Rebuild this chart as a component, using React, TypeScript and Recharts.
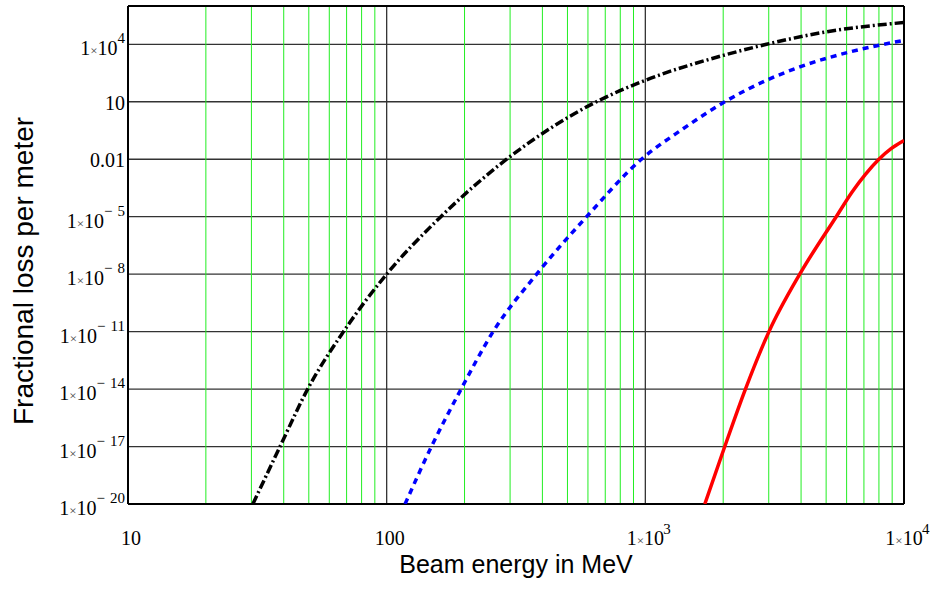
import { LineChart, Line, XAxis, YAxis, CartesianGrid, ReferenceLine, Label } from 'recharts';

// energies in MeV, losses per meter
const blackEnergy = [30.4, 38.7, 49.5, 68.1, 100, 162, 291, 647, 1000, 2000, 2940, 5000, 10000];
const blackLoss = [1e-20, 1e-17, 1e-14, 1e-11, 1e-8, 1e-5, 0.01, 10, 132, 2630, 1e4, 44700, 138000];

const blueEnergy = [117.8, 149, 194, 258, 380, 593, 966, 1400, 2028, 2940, 3954, 6166, 10000];
const blueLoss = [1e-20, 1e-17, 1e-14, 1e-11, 1e-8, 1e-5, 0.01, 0.39, 10, 132, 661, 3980, 16200];

const redEnergy = [1698, 2028, 2438, 3006, 3954, 5470, 6310, 7079, 8000, 8913, 10000];
const redLoss = [1e-20, 1e-17, 1e-14, 1e-11, 1e-8, 1e-5, 2.0e-4, 1.58e-3, 0.01, 0.0355, 0.095];

const xTicks = [10, 100, 1000, 10000];
const xMinor = [20, 30, 40, 50, 60, 70, 80, 90, 200, 300, 400, 500, 600, 700, 800, 900,
    2000, 3000, 4000, 5000, 6000, 7000, 8000, 9000];
const yTicks = [1e-20, 1e-17, 1e-14, 1e-11, 1e-8, 1e-5, 0.01, 10, 1e4];

const toPoints = (e: number[], v: number[]) => e.map((x, i) => ({ e: x, v: v[i] }));
const blackData = toPoints(blackEnergy, blackLoss);
const blueData = toPoints(blueEnergy, blueLoss);
const redData = toPoints(redEnergy, redLoss);

const SERIF = '"Liberation Serif", "DejaVu Serif", serif';
const SANS = '"Liberation Sans", Arial, sans-serif';

function parts(v: number) {
    const exp = Math.round(Math.log10(v));
    if (exp >= -2 && exp <= 2) return { base: String(v), exp: null as number | null };
    return { base: '10', exp };
}

const Sup = ({ exp }: { exp: number }) =>
    exp < 0 ? (
        <>
            <tspan>{'\u2212'}</tspan>
            <tspan dx={5}>{String(-exp)}</tspan>
        </>
    ) : (
        <tspan>{String(exp)}</tspan>
    );

const YTick = ({ x, y, payload }: any) => {
    const p = parts(payload.value);
    if (p.exp === null) {
        return <text x={x} y={y + 8} textAnchor="end" fontFamily={SERIF} fontSize={20} fill="#000">{p.base}</text>;
    }
    return (
        <text x={x} y={y + 11} textAnchor="end" fontFamily={SERIF} fontSize={20} fill="#000">
            <tspan>1</tspan>
            <tspan fontSize={13} fill="#444">×</tspan>
            <tspan>10</tspan>
            <tspan dy={-12} fontSize={15}>
                <Sup exp={p.exp} />
            </tspan>
        </text>
    );
};

const XTick = ({ x, y, payload }: any) => {
    const p = parts(payload.value);
    if (p.exp === null) {
        return <text x={x + 3} y={y + 41} textAnchor="middle" fontFamily={SERIF} fontSize={20} fill="#000">{p.base}</text>;
    }
    return (
        <g>
            <text x={x} y={y + 41} textAnchor="middle" fontFamily={SERIF} fontSize={20} fill="#000">
                <tspan>1</tspan>
                <tspan fontSize={13} fill="#444">×</tspan>
                <tspan>10</tspan>
            </text>
            <text x={x + 18} y={y + 30} textAnchor="start" fontFamily={SERIF} fontSize={15} fill="#000">
                <Sup exp={p.exp} />
            </text>
        </g>
    );
};

export default function App() {
    return (
        <div style={{ position: 'absolute', left: 0, top: 0, width: 936, height: 606, background: '#fff' }}>
            <LineChart width={936} height={606} margin={{ top: 6, right: 32, bottom: 0, left: 0 }}>
                {xMinor.map((m) => (
                    <ReferenceLine key={m} x={m} stroke="#22ee22" strokeWidth={1} />
                ))}
                <CartesianGrid stroke="#333" strokeWidth={1.3} />
                <XAxis
                    dataKey="e"
                    type="number"
                    scale="log"
                    domain={[10, 10000]}
                    ticks={xTicks}
                    allowDataOverflow
                    axisLine={false}
                    tickLine={false}
                    tickSize={0}
                    tickMargin={0}
                    height={102}
                    tick={<XTick />}
                    interval={0}
                >
                    <Label
                        content={() => (
                            <text x={516} y={573} textAnchor="middle" fontFamily={SANS} fontSize={25} fill="#000">
                                Beam energy in MeV
                            </text>
                        )}
                    />
                </XAxis>
                <YAxis
                    dataKey="v"
                    type="number"
                    scale="log"
                    domain={[1e-20, 1e6]}
                    ticks={yTicks}
                    allowDataOverflow
                    axisLine={false}
                    tickLine={false}
                    tickSize={0}
                    tickMargin={3}
                    width={128}
                    tick={<YTick />}
                    interval={0}
                >
                    <Label
                        content={() => (
                            <text
                                transform="translate(33,271) rotate(-90)"
                                textAnchor="middle"
                                fontFamily={SANS}
                                fontSize={28}
                                fill="#000"
                            >
                                Fractional loss per meter
                            </text>
                        )}
                    />
                </YAxis>
                <ReferenceLine x={10} stroke="#000" strokeWidth={2} />
                <ReferenceLine x={10000} stroke="#000" strokeWidth={2} />
                <ReferenceLine y={1e-20} stroke="#000" strokeWidth={2} />
                <ReferenceLine y={1e6} stroke="#000" strokeWidth={2} />
                <Line data={redData} dataKey="v" type="monotone" stroke="#ff0000" strokeWidth={3.5} dot={false} isAnimationActive={false} />
                <Line data={blueData} dataKey="v" type="monotone" stroke="#0000ff" strokeWidth={3.5} strokeDasharray="6 5" dot={false} isAnimationActive={false} />
                <Line data={blackData} dataKey="v" type="monotone" stroke="#000" strokeWidth={3.5} strokeDasharray="9 3 2 3" dot={false} isAnimationActive={false} />
            </LineChart>
        </div>
    );
}
